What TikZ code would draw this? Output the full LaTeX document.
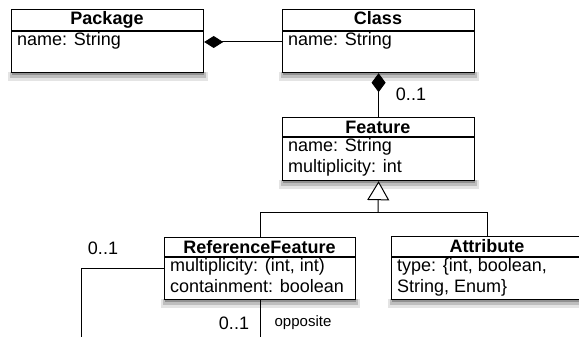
\documentclass[tikz,border=0pt]{standalone}
\usepackage{fontspec}
\setmainfont{Liberation Sans}
\usetikzlibrary{arrows.meta}

\definecolor{shdA}{RGB}{228,228,228}
\definecolor{shdB}{RGB}{190,190,190}
\definecolor{shdC}{RGB}{145,145,145}

\tikzset{
  umlbox/.style={draw, line width=1.2pt, fill=white, inner sep=0pt, anchor=north west},
  conn/.style={line width=1pt},
  comp/.style={conn, {Diamond[length=19pt,width=#1]}-},
  gen/.style={conn, -{Triangle[open,length=19pt,width=22pt,fill=white]}},
  mult/.style={anchor=base, inner sep=0pt},
  rolelbl/.style={anchor=base, inner sep=0pt, font=\fontsize{15pt}{17pt}\selectfont},
  ttl/.style={anchor=base, inner sep=0pt, font=\fontsize{18pt}{21pt}\selectfont\bfseries},
  bdy/.style={anchor=base west, inner sep=0pt},
}

\begin{document}
\begin{tikzpicture}[x=1pt,y=-1pt,font=\fontsize{18pt}{21pt}\selectfont]
\useasboundingbox (0,0) rectangle (579,337);

% shadows under the class boxes
\fill[shdA] (8,72) rectangle (208,81);
\fill[shdB] (10,72) rectangle (206,78);
\fill[shdC] (12,72) rectangle (204,75);
\fill[shdA] (279,72) rectangle (479,81);
\fill[shdB] (281,72) rectangle (477,78);
\fill[shdC] (283,72) rectangle (475,75);
\fill[shdA] (279,180) rectangle (479,189);
\fill[shdB] (281,180) rectangle (477,186);
\fill[shdC] (283,180) rectangle (475,183);
\fill[shdA] (161,299) rectangle (360,308);
\fill[shdB] (163,299) rectangle (358,305);
\fill[shdC] (165,299) rectangle (356,302);
\fill[shdA] (388,299) rectangle (588,308);
\fill[shdB] (390,299) rectangle (586,305);
\fill[shdC] (392,299) rectangle (584,302);

% class boxes
\node[umlbox, minimum width=192pt, minimum height=63pt] (pkg) at (11,9) {};
\node[umlbox, minimum width=192pt, minimum height=63pt] (cls) at (282,9) {};
\node[umlbox, minimum width=192pt, minimum height=63pt] (feat) at (282,117) {};
\node[umlbox, minimum width=191pt, minimum height=62pt] (rf) at (164,237) {};
\node[umlbox, minimum width=192pt, minimum height=63pt] (attr) at (391,236) {};

% header separators
\draw[line width=1.2pt] (11,31) -- (203,31);
\draw[line width=1.2pt] (282,31) -- (474,31);
\draw[line width=1.2pt] (282,137) -- (474,137);
\draw[line width=1.2pt] (164,257) -- (355,257);
\draw[line width=1.2pt] (391,257) -- (583,257);

% titles
\node[ttl] (pkg-t) at (107,25) {Package};
\node[ttl] (cls-t) at (378,25) {Class};
\node[ttl] (feat-t) at (378,133) {Feature};
\node[ttl] (rf-t) at (259.5,253) {ReferenceFeature};
\node[ttl] (attr-t) at (487,252) {Attribute};

% attributes
\node[bdy] (pkg-b) at (17,45.5) {name: String};
\node[bdy] (cls-b) at (288,45.5) {name: String};
\node[bdy] (feat-b) at (288,151.5) {\begin{tabular}[t]{@{}l@{}}name: String\\multiplicity: int\end{tabular}};
\node[bdy] (rf-b) at (170,271.5) {\begin{tabular}[t]{@{}l@{}}multiplicity: (int, int)\\containment: boolean\end{tabular}};
\node[bdy] (attr-b) at (397,271.5) {\begin{tabular}[t]{@{}l@{}}type: \{int, boolean,\\String, Enum\}\end{tabular}};

% composition Package <>-- Class
\draw[comp=12pt] (pkg.east |- 0,42) -- (cls.west |- 0,42);
% composition Class <>-- Feature
\draw[comp=14pt] (cls.south) -- (feat.north);
\node[mult] (m1) at (411,101) {0..1};

% generalization
\coordinate (g) at (378,212);
\draw[conn] (rf.north) |- (g);
\draw[conn] (attr.north) |- (g);
\draw[gen] (g) -- (feat.south);

% self association opposite
\coordinate (lc) at (81,345);
\draw[conn] (rf.west) -| (lc) -| (rf.south);
\node[mult] (m2) at (103,254) {0..1};
\node[mult] (m3) at (234,329) {0..1};
\node[rolelbl] (op) at (303,326) {opposite};
\end{tikzpicture}
\end{document}
